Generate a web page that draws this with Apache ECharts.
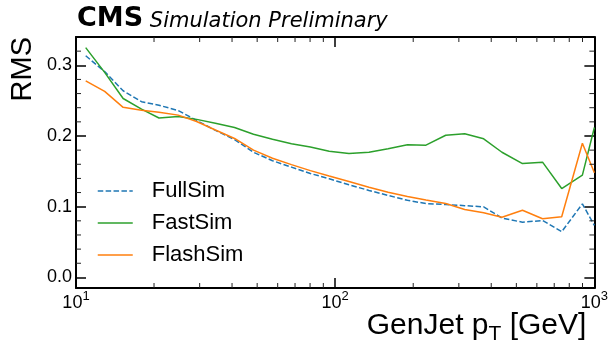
<!DOCTYPE html>
<html><head><meta charset="utf-8">
<script src="https://cdn.jsdelivr.net/npm/echarts@6/dist/echarts.min.js"></script>
<style>html,body{margin:0;padding:0;background:#fff}#c{width:611px;height:346px}</style>
</head><body><div id="c"></div>
<script>
// ---- data ----
const genJetPt = [10.9, 12.9, 15.2, 17.9, 20.9, 24.8, 29.2, 34.5, 40.9, 48.4, 57.3, 67.8, 80.2, 94.8, 113, 135, 160, 190, 224, 267, 316, 374, 440, 528, 631, 748, 899, 1000];
const fullSim  = [0.3135, 0.291, 0.264, 0.2485, 0.2435, 0.236, 0.222, 0.208, 0.195, 0.177, 0.165, 0.156, 0.147, 0.1395, 0.131, 0.123, 0.116, 0.109, 0.1045, 0.103, 0.1015, 0.0998, 0.084, 0.078, 0.0805, 0.0646, 0.104, 0.0735];
const fastSim  = [0.325, 0.29, 0.253, 0.238, 0.2255, 0.2275, 0.2235, 0.218, 0.212, 0.2025, 0.1955, 0.189, 0.1845, 0.1785, 0.1752, 0.177, 0.182, 0.1877, 0.187, 0.201, 0.2033, 0.196, 0.177, 0.161, 0.163, 0.1257, 0.1447, 0.212];
const flashSim = [0.278, 0.263, 0.2405, 0.2365, 0.2335, 0.2295, 0.2205, 0.2085, 0.1965, 0.18, 0.1685, 0.1595, 0.151, 0.1433, 0.1355, 0.1275, 0.1205, 0.1145, 0.1095, 0.1045, 0.096, 0.0915, 0.085, 0.095, 0.083, 0.0857, 0.1897, 0.148];
const seriesNames = ['FullSim', 'FastSim', 'FlashSim'];
const xMinorTicks = [20, 30, 40, 50, 60, 70, 80, 90, 200, 300, 400, 500, 600, 700, 800, 900];
const yMinorTicks = [0.02, 0.04, 0.06, 0.08, 0.12, 0.14, 0.16, 0.18, 0.22, 0.24, 0.26, 0.28, 0.32];
const titleMain = 'CMS';
const titleSub = 'Simulation Preliminary';

const pairs = (ys) => genJetPt.map((x, i) => [x, ys[i]]);
const X_MIN = 10, X_MAX = 1000, Y_MIN = -0.015, Y_MAX = 0.34;
const TICKFONT = 'Liberation Sans';

const chart = echarts.init(document.getElementById('c'), null, {renderer: 'canvas'});

function yLabel(v) {
  const r = Math.round(v * 10) / 10;
  return (Math.abs(v - r) < 1e-6 && v > -1e-9) ? r.toFixed(1) : '';
}
function xLabel(v) {
  return '{b|10}{s|' + Math.round(Math.log10(v)) + '}';
}

function minorX(params, api) {
  const cs = params.coordSys;
  const px = api.coord([api.value(0), 0.1])[0];
  const st = {stroke: '#222', lineWidth: 1};
  return {type: 'group', children: [
    {type: 'line', shape: {x1: px, y1: cs.y + cs.height, x2: px, y2: cs.y + cs.height - 5}, style: st},
    {type: 'line', shape: {x1: px, y1: cs.y, x2: px, y2: cs.y + 5}, style: st}
  ]};
}
function minorY(params, api) {
  const cs = params.coordSys;
  const py = api.coord([100, api.value(1)])[1];
  const st = {stroke: '#222', lineWidth: 1};
  return {type: 'group', children: [
    {type: 'line', shape: {x1: cs.x, y1: py, x2: cs.x + 5, y2: py}, style: st},
    {type: 'line', shape: {x1: cs.x + cs.width, y1: py, x2: cs.x + cs.width - 5, y2: py}, style: st}
  ]};
}

const axisLine = {show: true, onZero: false, lineStyle: {color: '#000', width: 2}};
const majorTick = {show: true, inside: true, length: 10, lineStyle: {color: '#000', width: 1.5}};

chart.setOption({
  animation: false,
  backgroundColor: '#fff',
  title: {
    left: 77, top: 5, padding: 0,
    text: '{a|' + titleMain + '}{b| ' + titleSub + '}',
    textStyle: {
      fontWeight: 'normal',
      rich: {
        a: {fontFamily: 'DejaVu Sans', fontWeight: 'bold', fontSize: 27, lineHeight: 27, verticalAlign: 'bottom', color: '#000'},
        b: {fontFamily: 'DejaVu Sans', fontWeight: 'normal', fontStyle: 'italic', fontSize: 21, lineHeight: 21, verticalAlign: 'bottom', color: '#000'}
      }
    }
  },
  grid: {left: 76, top: 37, width: 520, height: 251, show: false, containLabel: false},
  legend: {
    orient: 'vertical', left: 97, top: 180, padding: 0,
    itemWidth: 35, itemHeight: 14, itemGap: 10,
    selectedMode: false,
    itemStyle: {opacity: 0},
    lineStyle: {width: 1.5},
    textStyle: {fontFamily: 'Liberation Sans', fontSize: 22, lineHeight: 22, color: '#000', padding: [0, 0, 0, 14]},
    data: seriesNames
  },
  xAxis: [{
    type: 'log', logBase: 10, min: X_MIN, max: X_MAX, position: 'bottom',
    axisLine: axisLine, axisTick: majorTick, splitLine: {show: false}, minorTick: {show: false},
    axisLabel: {
      margin: 2, formatter: xLabel, color: '#000',
      rich: {
        b: {fontFamily: TICKFONT, fontSize: 18, lineHeight: 18, verticalAlign: 'top', padding: [4, 0, 0, 0], color: '#000'},
        s: {fontFamily: TICKFONT, fontSize: 13, lineHeight: 13, verticalAlign: 'top', color: '#000'}
      }
    },
    name: '{a|GenJet p}{s|T}{a| [GeV]}',
    nameLocation: 'end', nameGap: 0, nameMoveOverlap: false,
    nameTextStyle: {
      align: 'right', verticalAlign: 'top', padding: [23, 8, 0, 0],
      rich: {
        a: {fontFamily: 'Liberation Sans', fontSize: 30, lineHeight: 30, verticalAlign: 'top', color: '#000'},
        s: {fontFamily: 'Liberation Sans', fontSize: 21, lineHeight: 21, verticalAlign: 'top', padding: [13, 0, 0, 0], color: '#000'}
      }
    }
  }, {
    type: 'log', logBase: 10, min: X_MIN, max: X_MAX, position: 'top',
    axisLine: axisLine, axisTick: majorTick, axisLabel: {show: false}, splitLine: {show: false}
  }],
  yAxis: [{
    type: 'value', min: Y_MIN, max: Y_MAX, splitNumber: 4, position: 'left',
    axisLine: axisLine, axisTick: majorTick, splitLine: {show: false},
    axisLabel: {margin: 4, formatter: yLabel, fontFamily: TICKFONT, fontSize: 18, color: '#000', showMinLabel: true, showMaxLabel: true},
    name: 'RMS', nameLocation: 'end', nameGap: 0, nameRotate: 90, nameMoveOverlap: false,
    nameTextStyle: {fontFamily: 'Liberation Sans', fontSize: 29, lineHeight: 29, align: 'right', verticalAlign: 'bottom', padding: [0, 0, 39, 0], color: '#000'}
  }, {
    type: 'value', min: Y_MIN, max: Y_MAX, splitNumber: 4, position: 'right',
    axisLine: axisLine, axisTick: majorTick, axisLabel: {show: false}, splitLine: {show: false}
  }],
  series: [
    {name: seriesNames[0], type: 'line', data: pairs(fullSim), symbol: 'none', clip: true,
     color: '#1f77b4', lineStyle: {color: '#1f77b4', width: 1.5, type: [5.5, 2.4]}},
    {name: seriesNames[1], type: 'line', data: pairs(fastSim), symbol: 'none', clip: true,
     color: '#2ca02c', lineStyle: {color: '#2ca02c', width: 1.5}},
    {name: seriesNames[2], type: 'line', data: pairs(flashSim), symbol: 'none', clip: true,
     color: '#ff7f0e', lineStyle: {color: '#ff7f0e', width: 1.5}},
    {type: 'custom', silent: true, renderItem: minorX, data: xMinorTicks.map(v => [v, 0.1]), z: 5},
    {type: 'custom', silent: true, renderItem: minorY, data: yMinorTicks.map(v => [100, v]), z: 5}
  ]
});
</script>
</body></html>
